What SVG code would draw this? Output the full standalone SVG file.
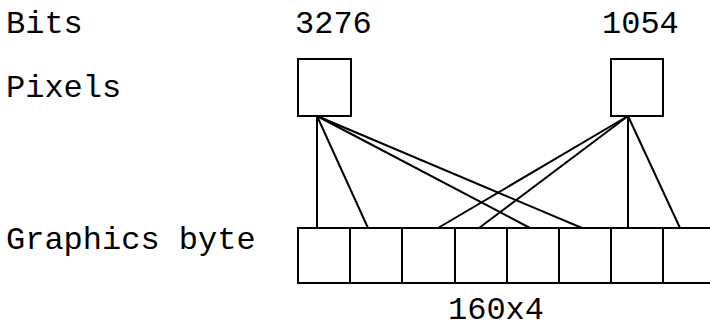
<svg xmlns="http://www.w3.org/2000/svg" width="710" height="324" viewBox="0 0 710 324">
<style>
text{font-family:"Liberation Mono","Courier New",monospace;font-size:32px;fill:#000}
.b{fill:#fff;stroke:#000;stroke-width:2}
.c line{stroke:#000;stroke-width:2}
</style>
<rect width="710" height="324" fill="#fff"/>
<g id="labels">
<text x="6" y="33">Bits</text>
<text x="6" y="97">Pixels</text>
<text x="6" y="249">Graphics byte</text>
<text x="295" y="33">3276</text>
<text x="602" y="33">1054</text>
<text x="448" y="319">160x4</text>
</g>
<g id="pixel1"><rect class="b" x="298" y="59" width="53" height="57"/></g>
<g id="pixel2"><rect class="b" x="611" y="59" width="52" height="57"/></g>
<g id="byte">
<rect class="b" x="298" y="228" width="52" height="55"/>
<rect class="b" x="350" y="228" width="52" height="55"/>
<rect class="b" x="402" y="228" width="53" height="55"/>
<rect class="b" x="455" y="228" width="52" height="55"/>
<rect class="b" x="507" y="228" width="52" height="55"/>
<rect class="b" x="559" y="228" width="52" height="55"/>
<rect class="b" x="611" y="228" width="52" height="55"/>
<rect class="b" x="663" y="228" width="52" height="55"/>
</g>
<g id="connectors" class="c">
<line x1="317" y1="116" x2="317" y2="228"/>
<line x1="317" y1="116" x2="368" y2="228"/>
<line x1="317" y1="116" x2="530" y2="228"/>
<line x1="317" y1="116" x2="582" y2="228"/>
<line x1="628" y1="116" x2="438" y2="228"/>
<line x1="628" y1="116" x2="479" y2="228"/>
<line x1="628" y1="116" x2="628" y2="228"/>
<line x1="628" y1="116" x2="680" y2="228"/>
</g>
</svg>
